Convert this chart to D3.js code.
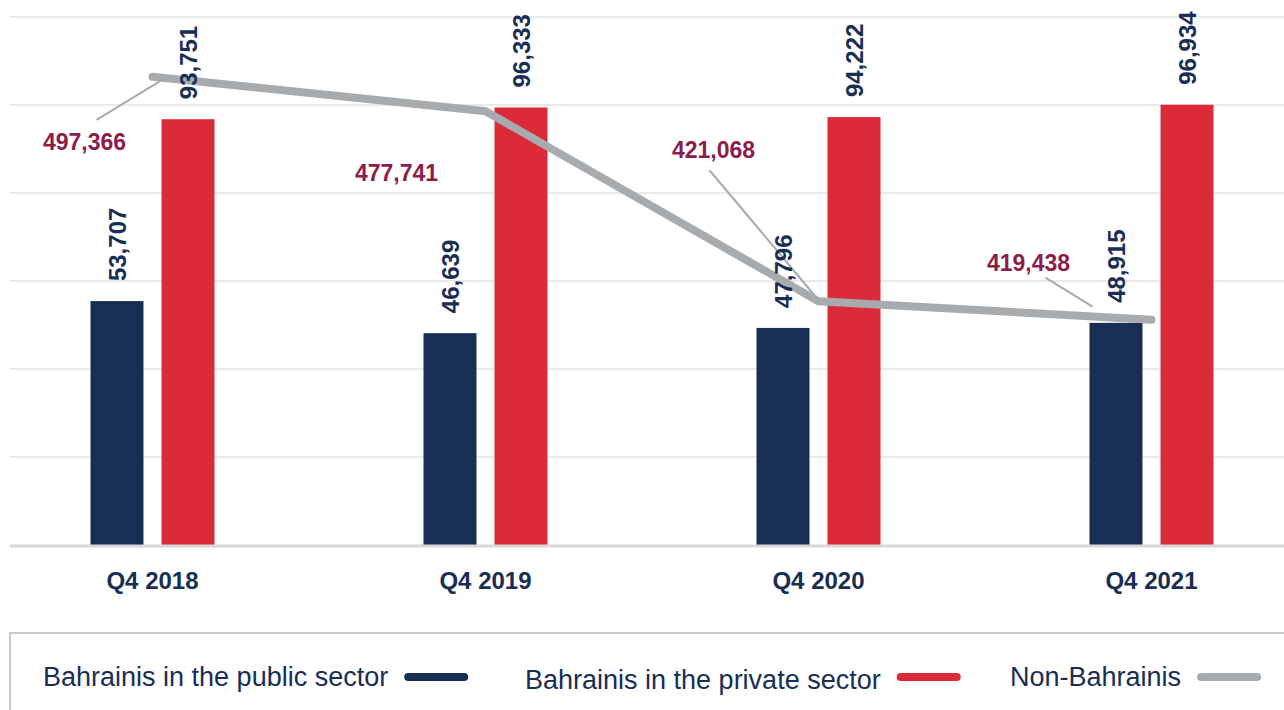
<!DOCTYPE html>
<html>
<head>
<meta charset="utf-8">
<script src="https://cdn.jsdelivr.net/npm/d3@7"></script>
<style>
  body { margin: 0; background: #fff; }
  text { font-family: "Liberation Sans", Arial, Helvetica, sans-serif; }
</style>
</head>
<body>
<div id="chart"></div>
<script>
// ---------------- DATA
var categories = ["Q4 2018", "Q4 2019", "Q4 2020", "Q4 2021"];
var publicSector = [53707, 46639, 47796, 48915];
var privateSector = [93751, 96333, 94222, 96934];
// values printed on the chart for non-Bahrainis
var nonBahrainiLabels = [497366, 477741, 421068, 419438];
var nonBahrainiPlotted = [532000, 493000, 277000, 256000];
var legendLabels = ["Bahrainis in the public sector", "Bahrainis in the private sector", "Non-Bahrainis"];

var width = 1284, height = 710;
var navy = "#182e54", red = "#db2b39", grey = "#a8abae", maroon = "#8c1d4b";

var svg = d3.select("#chart").append("svg")
    .attr("width", width)
    .attr("height", height);

//------------------------------------------ SCALES
var x = d3.scaleBand().domain(categories).range([-14, 1318]);
var xSub = d3.scaleBand().domain(["public", "private"]).range([-62, 62]).paddingInner(0.254);
var y = d3.scaleLinear().domain([0, 120000]).range([545, 0]);
var y2 = d3.scaleLinear().domain([0, 600000]).range([545, 17]);

function cx(c) { return x(c) + x.bandwidth() / 2; }

//------------------------------------------ GRID
var grid = svg.append("g");
grid.selectAll("line.grid")
    .data(y2.ticks(6).filter(function (t) { return t > 0; }))
    .enter().append("line")
    .attr("class", "grid")
    .attr("x1", 10).attr("x2", width)
    .attr("y1", function (d) { return y2(d); })
    .attr("y2", function (d) { return y2(d); })
    .attr("stroke", "#e3e3e3")
    .attr("stroke-width", 1.5);

//------------------------------------------ BARS
var bars = svg.append("g");
var barData = [];
categories.forEach(function (c, i) {
    barData.push({ cat: c, key: "public", v: publicSector[i], fill: navy });
    barData.push({ cat: c, key: "private", v: privateSector[i], fill: red });
});

bars.selectAll("rect")
    .data(barData)
    .enter().append("rect")
    .attr("x", function (d) { return cx(d.cat) + xSub(d.key); })
    .attr("width", xSub.bandwidth())
    .attr("y", function (d) { return y(d.v); })
    .attr("height", function (d) { return y(0) - y(d.v); })
    .attr("fill", function (d) { return d.fill; });

// baseline
svg.append("line")
    .attr("x1", 10).attr("x2", width)
    .attr("y1", y(0) + 1).attr("y2", y(0) + 1)
    .attr("stroke", "#d8d8d8")
    .attr("stroke-width", 3);

//------------------------------------------ NON-BAHRAINIS LINE
var pts = categories.map(function (c, i) { return [cx(c), y2(nonBahrainiPlotted[i])]; });

svg.append("path")
    .attr("d", d3.line()(pts))
    .attr("fill", "none")
    .attr("stroke", grey)
    .attr("stroke-width", 8)
    .attr("stroke-linecap", "round");

// label placement relative to each point (label centre, leader start, leader end)
var lineLabelLayout = [
    { dx: -68, dy: 65, leader: [[-56, 43], [8, 4]] },
    { dx: -89, dy: 62, leader: null },
    { dx: -105, dy: -151, leader: [[-109, -131], [-4, -6]] },
    { dx: -123, dy: -57, leader: [[-106, -42], [-59, -13]] }
];

var leaders = svg.append("g");
pts.forEach(function (p, i) {
    var l = lineLabelLayout[i].leader;
    if (!l) return;
    leaders.append("line")
        .attr("x1", p[0] + l[0][0]).attr("y1", p[1] + l[0][1])
        .attr("x2", p[0] + l[1][0]).attr("y2", p[1] + l[1][1])
        .attr("stroke", grey)
        .attr("stroke-width", 2);
});

//------------------------------------------ BAR VALUE LABELS
svg.append("g").selectAll("text")
    .data(barData)
    .enter().append("text")
    .attr("transform", function (d) {
        return "translate(" + (cx(d.cat) + xSub(d.key) + xSub.bandwidth() / 2) + "," + (y(d.v) - 20) + ") rotate(-90)";
    })
    .attr("dy", "0.36em")
    .attr("text-anchor", "start")
    .attr("font-size", 24)
    .attr("font-weight", "bold")
    .attr("fill", navy)
    .text(function (d) { return d3.format(",")(d.v); });

// line labels
svg.append("g").selectAll("text")
    .data(nonBahrainiLabels)
    .enter().append("text")
    .attr("x", function (d, i) { return pts[i][0] + lineLabelLayout[i].dx; })
    .attr("y", function (d, i) { return pts[i][1] + lineLabelLayout[i].dy; })
    .attr("dy", "0.35em")
    .attr("text-anchor", "middle")
    .attr("font-size", 23)
    .attr("font-weight", "bold")
    .attr("fill", maroon)
    .text(function (d) { return d3.format(",")(d); });

//------------------------------------------ X AXIS LABELS
svg.append("g").selectAll("text")
    .data(categories)
    .enter().append("text")
    .attr("x", function (d) { return cx(d); })
    .attr("y", 589)
    .attr("text-anchor", "middle")
    .attr("font-size", 24)
    .attr("font-weight", "bold")
    .attr("fill", navy)
    .text(function (d) { return d; });

//------------------------------------------ LEGEND
svg.append("rect")
    .attr("x", 10).attr("y", 633)
    .attr("width", width + 20).attr("height", 120)
    .attr("fill", "none")
    .attr("stroke", "#c9c9c9")
    .attr("stroke-width", 2);

var legendX = [43, 525, 1010];
var legendY = [686, 689, 686];
var legendColors = [navy, red, grey];

legendLabels.forEach(function (lab, i) {
    var t = svg.append("text")
        .attr("x", legendX[i])
        .attr("y", legendY[i])
        .attr("font-size", 27)
        .attr("fill", navy)
        .text(lab);
    var w = t.node().getComputedTextLength();
    svg.append("line")
        .attr("x1", legendX[i] + w + 20).attr("x2", legendX[i] + w + 76)
        .attr("y1", 677).attr("y2", 677)
        .attr("stroke", legendColors[i])
        .attr("stroke-width", 8)
        .attr("stroke-linecap", "round");
});
</script>
</body>
</html>
